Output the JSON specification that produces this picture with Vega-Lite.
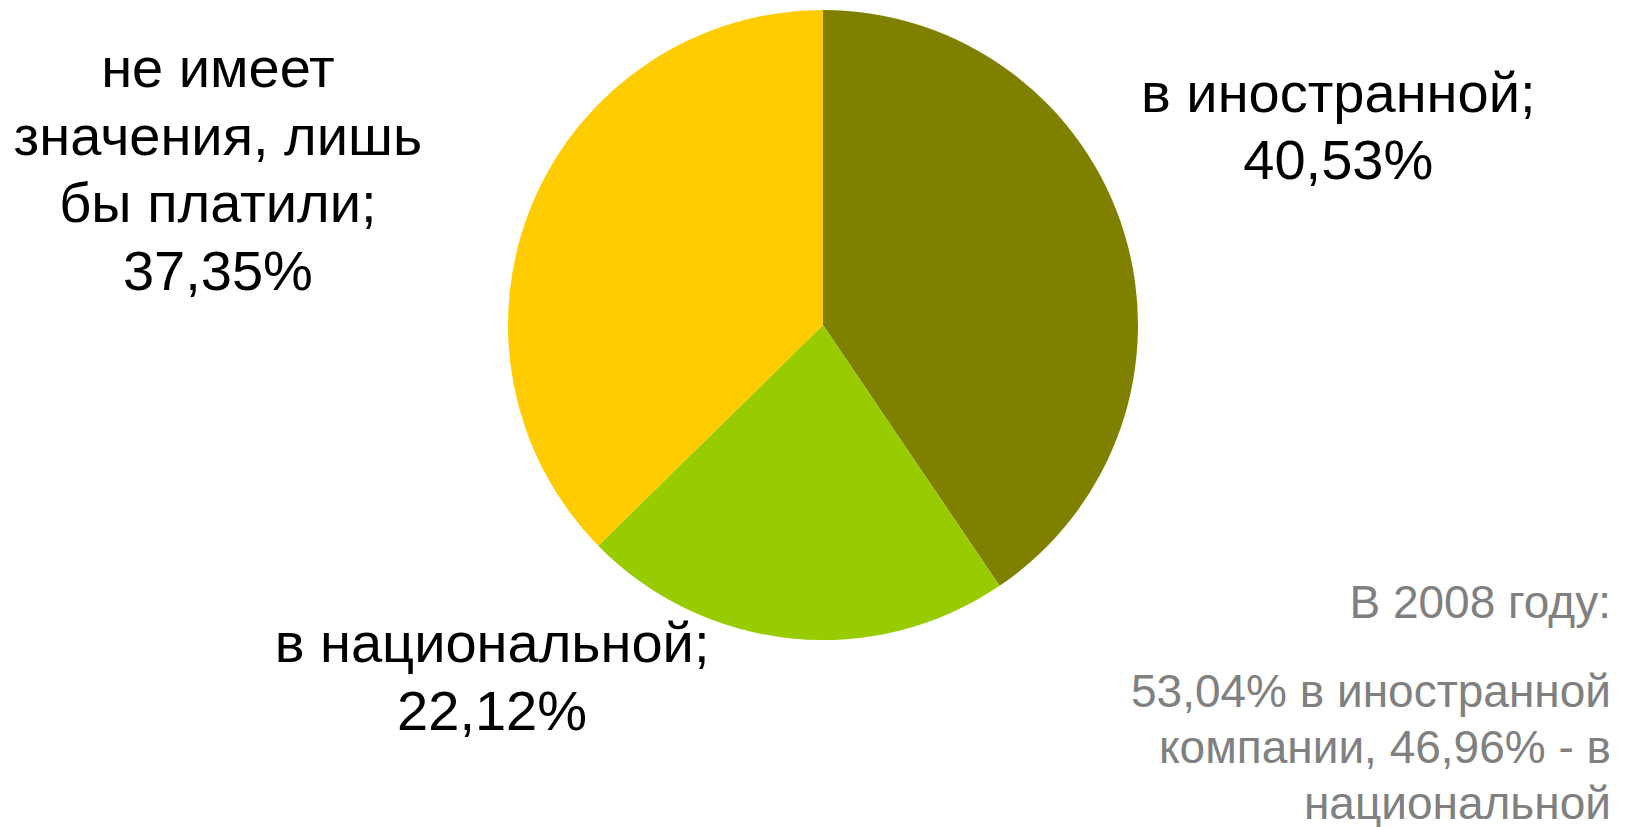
{
  "$schema": "https://vega.github.io/schema/vega-lite/v6.json",
  "width": 630,
  "height": 630,
  "autosize": {"type": "none"},
  "padding": {"left": 508, "top": 10, "right": 492, "bottom": 187},
  "background": "white",
  "config": {"view": {"stroke": null}, "font": "Liberation Sans"},
  "title": {
    "text": "В 2008 году:",
    "subtitle": ["53,04% в иностранной", "компании, 46,96% - в", "национальной"],
    "orient": "bottom",
    "anchor": "end",
    "frame": "group",
    "align": "right",
    "font": "Liberation Sans",
    "fontSize": 46,
    "fontWeight": "normal",
    "color": "#808080",
    "subtitleFont": "Liberation Sans",
    "subtitleFontSize": 46,
    "subtitleColor": "#808080",
    "subtitleLineHeight": 56,
    "subtitlePadding": 43,
    "offset": 0,
    "dx": 473,
    "dy": -401
  },
  "data": {
    "values": [
      {"idx": 1, "category": "в иностранной", "value": 40.53, "label": "в иностранной;\n40,53%"},
      {"idx": 2, "category": "в национальной", "value": 22.12, "label": "в национальной;\n22,12%"},
      {"idx": 3, "category": "не имеет значения, лишь бы платили", "value": 37.35, "label": "не имеет\nзначения, лишь\nбы платили;\n37,35%"}
    ]
  },
  "encoding": {
    "theta": {"field": "value", "type": "quantitative", "stack": true},
    "order": {"field": "idx", "type": "quantitative"}
  },
  "layer": [
    {
      "mark": {"type": "arc", "outerRadius": 315},
      "encoding": {
        "color": {
          "field": "category",
          "type": "nominal",
          "scale": {
            "domain": ["в иностранной", "в национальной", "не имеет значения, лишь бы платили"],
            "range": ["#808000", "#99CC00", "#FFCC00"]
          },
          "legend": null
        }
      }
    },
    {
      "mark": {"type": "text", "radius": 540, "dx": -1, "dy": -72, "fontSize": 56, "lineHeight": 67.5, "lineBreak": "\n", "align": "center", "baseline": "middle", "font": "Liberation Sans", "color": "#000000"},
      "encoding": {
        "detail": {"field": "category", "type": "nominal"},
        "text": {"condition": {"test": "datum.idx === 1", "field": "label"}, "value": ""}
      }
    },
    {
      "mark": {"type": "text", "radius": 350, "dx": -296, "dy": -28, "fontSize": 56, "lineHeight": 67.5, "lineBreak": "\n", "align": "center", "baseline": "middle", "font": "Liberation Sans", "color": "#000000"},
      "encoding": {
        "detail": {"field": "category", "type": "nominal"},
        "text": {"condition": {"test": "datum.idx === 2", "field": "label"}, "value": ""}
      }
    },
    {
      "mark": {"type": "text", "radius": 640, "dx": -15, "dy": -7, "fontSize": 56, "lineHeight": 67.5, "lineBreak": "\n", "align": "center", "baseline": "middle", "font": "Liberation Sans", "color": "#000000"},
      "encoding": {
        "detail": {"field": "category", "type": "nominal"},
        "text": {"condition": {"test": "datum.idx === 3", "field": "label"}, "value": ""}
      }
    }
  ]
}
